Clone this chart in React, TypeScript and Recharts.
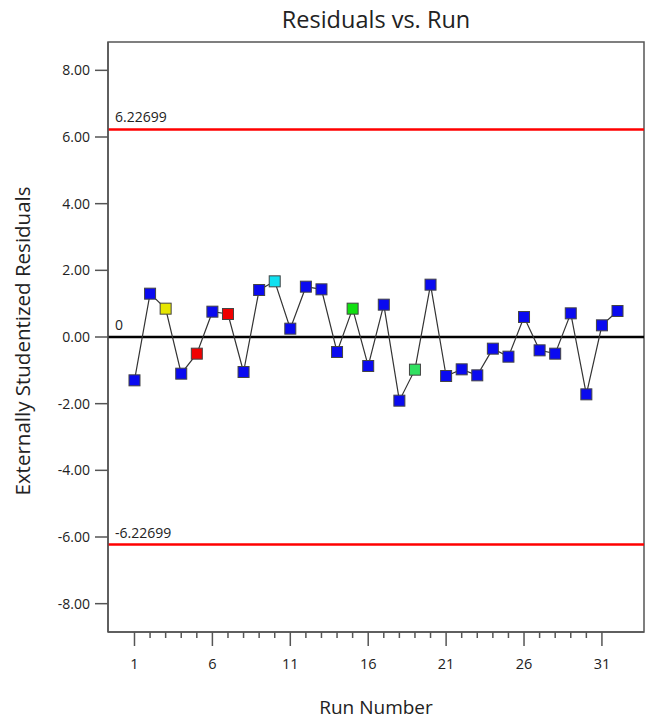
import React from 'react';
import {
  ComposedChart,
  Line,
  XAxis,
  YAxis,
  ReferenceLine,
  ReferenceArea,
  Label,
} from 'recharts';

// run order
const runs = [
  1, 2, 3, 4, 5, 6, 7, 8, 9, 10, 11, 12, 13, 14, 15, 16,
  17, 18, 19, 20, 21, 22, 23, 24, 25, 26, 27, 28, 29, 30, 31, 32,
];

// externally studentized residuals
const residuals = [
  -1.3, 1.3, 0.85, -1.1, -0.5, 0.76, 0.69, -1.05, 1.41, 1.67, 0.25, 1.51,
  1.43, -0.45, 0.85, -0.87, 0.97, -1.91, -0.98, 1.57, -1.17, -0.97, -1.15,
  -0.35, -0.59, 0.6, -0.4, -0.5, 0.71, -1.72, 0.35, 0.78,
];

// marker colours per run
const pointColors = [
  '#0a0af0', '#0a0af0', '#e6e600', '#0a0af0', '#f00000', '#0a0af0', '#f00000', '#0a0af0',
  '#0a0af0', '#10e0f0', '#0a0af0', '#0a0af0', '#0a0af0', '#0a0af0', '#10e010', '#0a0af0',
  '#0a0af0', '#0a0af0', '#30e060', '#0a0af0', '#0a0af0', '#0a0af0', '#0a0af0', '#0a0af0',
  '#0a0af0', '#0a0af0', '#0a0af0', '#0a0af0', '#0a0af0', '#0a0af0', '#0a0af0', '#0a0af0',
];

const xTicks = [
  1, 2, 3, 4, 5, 6, 7, 8, 9, 10, 11, 12, 13, 14, 15, 16,
  17, 18, 19, 20, 21, 22, 23, 24, 25, 26, 27, 28, 29, 30, 31,
];
const yTicks = [-8, -6, -4, -2, 0, 2, 4, 6, 8];

const limit = 6.22699;

const FONT = '"Open Sans", "Noto Sans", sans-serif';
const TEXT = '#222';
const AXIS = '#555';

const data = runs.map((run, i) => ({
  run,
  value: residuals[i],
  color: pointColors[i],
}));

// x tick: long tick + label for 1, 6, 11..., short tick otherwise
const RunTick = (props: any) => {
  const { x, y, payload } = props;
  const major = (payload.value - 1) % 5 === 0;
  return (
    <g>
      <line x1={x} y1={y} x2={x} y2={y + (major ? 14 : 6)} stroke={AXIS} strokeWidth={1.5} />
      {major && (
        <text x={x} y={y + 37} textAnchor="middle" fill={TEXT} fontSize={14.5} fontFamily={FONT}>
          {payload.value}
        </text>
      )}
    </g>
  );
};

const SquareDot = (props: any) => {
  const { cx, cy, payload, index } = props;
  if (cx == null || cy == null) return <g key={`d-${index}`} />;
  return (
    <rect
      key={`d-${index}`}
      x={cx - 5.5}
      y={cy - 5.5}
      width={11}
      height={11}
      fill={payload.color}
      stroke="#444"
      strokeWidth={1}
    />
  );
};

export default function App() {
  return (
    <div style={{ position: 'absolute', left: 0, top: 0, width: 651, height: 725, background: '#fff' }}>
      <div
        style={{
          position: 'absolute',
          left: 108,
          width: 536,
          top: 7,
          textAlign: 'center',
          fontFamily: FONT,
          fontSize: 23.5,
          lineHeight: '24px',
          color: TEXT,
        }}
      >
        Residuals vs. Run
      </div>
      <ComposedChart
        width={651}
        height={725}
        data={data}
        margin={{ top: 42, right: 7, bottom: 0, left: 8 }}
      >
        <ReferenceArea
          x1={-0.7}
          x2={33.7}
          y1={-8.85}
          y2={8.85}
          fill="none"
          stroke={AXIS}
          strokeWidth={1.5}
          ifOverflow="visible"
        />
        <XAxis
          type="number"
          dataKey="run"
          domain={[-0.7, 33.7]}
          ticks={xTicks}
          interval={0}
          allowDataOverflow
          height={93}
          tickSize={0}
          tickMargin={0}
          tickLine={false}
          tick={<RunTick />}
          axisLine={{ stroke: AXIS, strokeWidth: 1.5 }}
        >
          <Label
            content={(p: any) => {
              const vb = p.viewBox;
              return (
                <text
                  x={vb.x + vb.width / 2}
                  y={vb.y + 82}
                  textAnchor="middle"
                  fill={TEXT}
                  fontSize={19}
                  fontFamily={FONT}
                >
                  Run Number
                </text>
              );
            }}
          />
        </XAxis>
        <YAxis
          type="number"
          domain={[-8.85, 8.85]}
          ticks={yTicks}
          interval={0}
          allowDataOverflow
          width={100}
          tickSize={13}
          tickMargin={5}
          tickFormatter={(v: number) => v.toFixed(2)}
          tick={{ fill: TEXT, fontSize: 14, fontFamily: FONT }}
          tickLine={{ stroke: AXIS, strokeWidth: 1.5 }}
          axisLine={{ stroke: AXIS, strokeWidth: 1.5 }}
        >
          <Label
            content={(p: any) => {
              const vb = p.viewBox;
              const cx = vb.x + 14;
              const cy = vb.y + vb.height / 2 + 4;
              return (
                <text
                  x={cx}
                  y={cy}
                  transform={`rotate(-90 ${cx} ${cy})`}
                  textAnchor="middle"
                  dominantBaseline="central"
                  fill={TEXT}
                  fontSize={20.5}
                  fontFamily={FONT}
                >
                  Externally Studentized Residuals
                </text>
              );
            }}
          />
        </YAxis>
        <ReferenceLine y={limit} stroke="#ff0000" strokeWidth={2.5}>
          <Label value="6.22699" position="insideBottomLeft" offset={7} fill={TEXT} fontSize={14} fontFamily={FONT} />
        </ReferenceLine>
        <ReferenceLine y={-limit} stroke="#ff0000" strokeWidth={2.5}>
          <Label value="-6.22699" position="insideBottomLeft" offset={7} fill={TEXT} fontSize={14} fontFamily={FONT} />
        </ReferenceLine>
        <ReferenceLine y={0} stroke="#000" strokeWidth={2.5}>
          <Label value="0" position="insideBottomLeft" offset={7} fill={TEXT} fontSize={14} fontFamily={FONT} />
        </ReferenceLine>
        <Line
          type="linear"
          dataKey="value"
          stroke="#333"
          strokeWidth={1.2}
          dot={SquareDot}
          activeDot={false}
          isAnimationActive={false}
        />
      </ComposedChart>
    </div>
  );
}
